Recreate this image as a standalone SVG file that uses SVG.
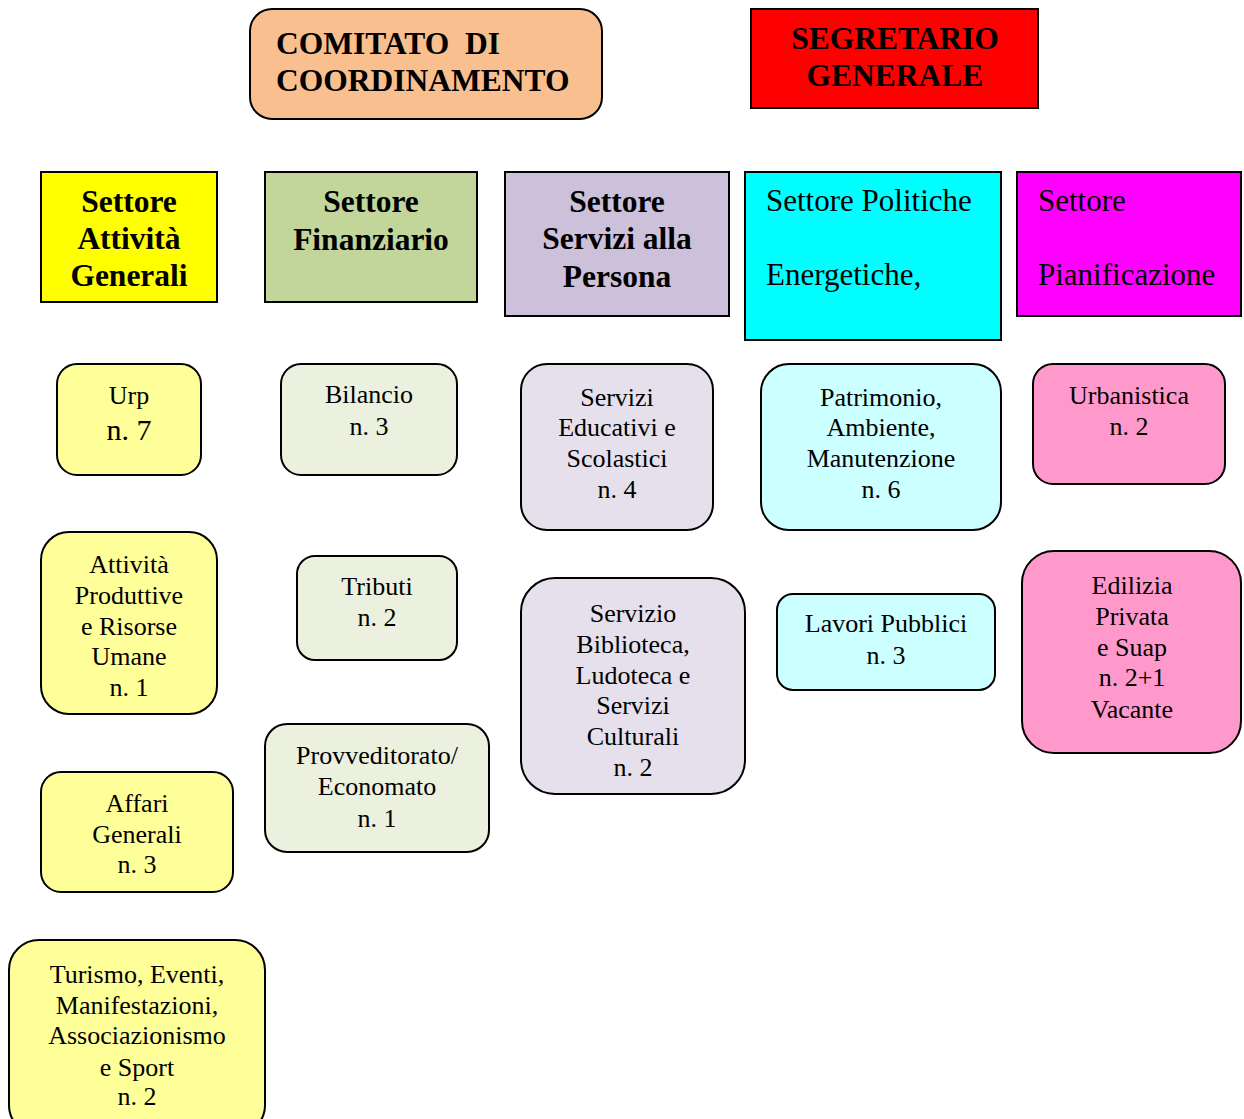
<svg xmlns="http://www.w3.org/2000/svg" width="1244" height="1119" viewBox="0 0 1244 1119" font-family="'Liberation Serif', 'Times New Roman', serif">
<style>
rect{stroke:#000;stroke-width:2}
text{font-family:"Liberation Serif","Times New Roman",serif;fill:#000}
.h{font-size:31.5px;font-weight:bold}
.hr{font-size:31px}
.s{font-size:26px;text-anchor:middle}
.c{text-anchor:middle}
</style>
<rect width="1244" height="1119" fill="#fff" style="stroke:none"/>
<g id="comitato">
<rect x="250" y="9" width="352" height="110" rx="22" fill="#F9BF8F"/>
<text class="h" x="276" y="54">COMITATO&#160; DI</text>
<text class="h" x="276" y="91">COORDINAMENTO</text>
</g>
<g id="segretario">
<rect x="751" y="9" width="287" height="99" fill="#FF0000"/>
<text class="h c" x="895" y="49">SEGRETARIO</text>
<text class="h c" x="895" y="86">GENERALE</text>
</g>
<g id="settore-attivita">
<rect x="41" y="172" width="176" height="130" fill="#FFFF00"/>
<text class="h c" x="129" y="212">Settore</text>
<text class="h c" x="129" y="249">Attività</text>
<text class="h c" x="129" y="286">Generali</text>
</g>
<g id="settore-finanziario">
<rect x="265" y="172" width="212" height="130" fill="#C2D69B"/>
<text class="h c" x="371" y="212">Settore</text>
<text class="h c" x="371" y="250">Finanziario</text>
</g>
<g id="settore-servizi">
<rect x="505" y="172" width="224" height="144" fill="#CCC0DA"/>
<text class="h c" x="617" y="212">Settore</text>
<text class="h c" x="617" y="249">Servizi alla</text>
<text class="h c" x="617" y="287">Persona</text>
</g>
<g id="settore-politiche">
<rect x="745" y="172" width="256" height="168" fill="#00FFFF"/>
<text class="hr" x="766" y="211">Settore Politiche</text>
<text class="hr" x="766" y="285">Energetiche,</text>
</g>
<g id="settore-pianificazione">
<rect x="1017" y="172" width="224" height="144" fill="#FF00FF"/>
<text class="hr" x="1038" y="211">Settore</text>
<text class="hr" x="1038" y="285">Pianificazione</text>
</g>
<g id="urp">
<rect x="57" y="364" width="144" height="111" rx="20" fill="#FFFF99"/>
<text class="s" x="129" y="404">Urp</text>
<text class="s" x="129" y="440" style="font-size:30px">n. 7</text>
</g>
<g id="bilancio">
<rect x="281" y="364" width="176" height="111" rx="20" fill="#EBF1DE"/>
<text class="s" x="369" y="403">Bilancio</text>
<text class="s" x="369" y="435">n. 3</text>
</g>
<g id="servizi-educativi">
<rect x="521" y="364" width="192" height="166" rx="26" fill="#E5E0EC"/>
<text class="s" x="617" y="406">Servizi</text>
<text class="s" x="617" y="436">Educativi e</text>
<text class="s" x="617" y="467">Scolastici</text>
<text class="s" x="617" y="498">n. 4</text>
</g>
<g id="patrimonio">
<rect x="761" y="364" width="240" height="166" rx="28" fill="#CCFFFF"/>
<text class="s" x="881" y="406">Patrimonio,</text>
<text class="s" x="881" y="436">Ambiente,</text>
<text class="s" x="881" y="467">Manutenzione</text>
<text class="s" x="881" y="498">n. 6</text>
</g>
<g id="urbanistica">
<rect x="1033" y="364" width="192" height="120" rx="20" fill="#FF99CC"/>
<text class="s" x="1129" y="404">Urbanistica</text>
<text class="s" x="1129" y="435">n. 2</text>
</g>
<g id="attivita-produttive">
<rect x="41" y="532" width="176" height="182" rx="28" fill="#FFFF99"/>
<text class="s" x="129" y="573">Attività</text>
<text class="s" x="129" y="604">Produttive</text>
<text class="s" x="129" y="635">e Risorse</text>
<text class="s" x="129" y="665">Umane</text>
<text class="s" x="129" y="696">n. 1</text>
</g>
<g id="tributi">
<rect x="297" y="556" width="160" height="104" rx="18" fill="#EBF1DE"/>
<text class="s" x="377" y="595">Tributi</text>
<text class="s" x="377" y="626">n. 2</text>
</g>
<g id="biblioteca">
<rect x="521" y="578" width="224" height="216" rx="34" fill="#E5E0EC"/>
<text class="s" x="633" y="622">Servizio</text>
<text class="s" x="633" y="653">Biblioteca,</text>
<text class="s" x="633" y="684">Ludoteca e</text>
<text class="s" x="633" y="714">Servizi</text>
<text class="s" x="633" y="745">Culturali</text>
<text class="s" x="633" y="776">n. 2</text>
</g>
<g id="lavori-pubblici">
<rect x="777" y="594" width="218" height="96" rx="16" fill="#CCFFFF"/>
<text class="s" x="886" y="632">Lavori Pubblici</text>
<text class="s" x="886" y="664">n. 3</text>
</g>
<g id="edilizia">
<rect x="1022" y="551" width="219" height="202" rx="32" fill="#FF99CC"/>
<text class="s" x="1132" y="594">Edilizia</text>
<text class="s" x="1132" y="625">Privata</text>
<text class="s" x="1132" y="656">e Suap</text>
<text class="s" x="1132" y="686">n. 2+1</text>
<text class="s" x="1132" y="718">Vacante</text>
</g>
<g id="affari-generali">
<rect x="41" y="772" width="192" height="120" rx="20" fill="#FFFF99"/>
<text class="s" x="137" y="812">Affari</text>
<text class="s" x="137" y="843">Generali</text>
<text class="s" x="137" y="873">n. 3</text>
</g>
<g id="provveditorato">
<rect x="265" y="724" width="224" height="128" rx="22" fill="#EBF1DE"/>
<text class="s" x="377" y="764">Provveditorato/</text>
<text class="s" x="377" y="795">Economato</text>
<text class="s" x="377" y="827">n. 1</text>
</g>
<g id="turismo">
<rect x="9" y="940" width="256" height="195" rx="30" fill="#FFFF99"/>
<text class="s" x="137" y="983">Turismo, Eventi,</text>
<text class="s" x="137" y="1014">Manifestazioni,</text>
<text class="s" x="137" y="1044">Associazionismo</text>
<text class="s" x="137" y="1076">e Sport</text>
<text class="s" x="137" y="1105">n. 2</text>
</g>
<g id="connectors"></g>
</svg>
